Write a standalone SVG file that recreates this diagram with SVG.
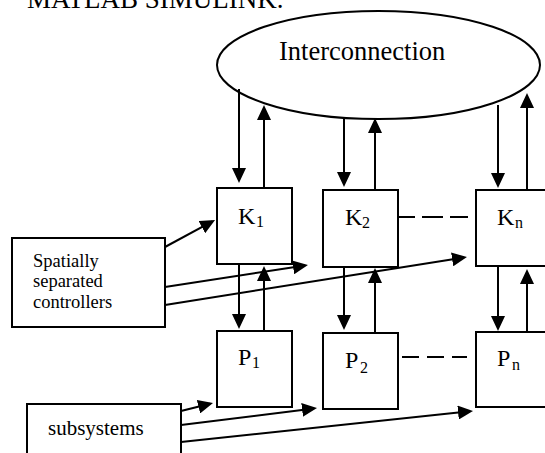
<svg xmlns="http://www.w3.org/2000/svg" width="545" height="453" viewBox="0 0 545 453">
  <style>
    .box { fill: #fff; stroke: #000; stroke-width: 2; }
    .wire { fill: none; stroke: #000; stroke-width: 2; marker-end: url(#head); }
    .dash { fill: none; stroke: #000; stroke-width: 2; }
    .serif { font-family: "Liberation Serif", "DejaVu Serif", "Noto Serif", Tinos, "Times New Roman", Times, serif; fill: #000; }
    .big { font-size: 24px; }
    .sub { font-size: 16px; }
  </style>
  <defs>
    <marker id="head" markerUnits="userSpaceOnUse" viewBox="0 0 15 14" refX="12" refY="7" markerWidth="15" markerHeight="14" orient="auto">
      <path d="M0,0 L15,7 L0,14 Z" fill="#000"/>
    </marker>
  </defs>
  <rect width="545" height="453" fill="#fff"/>

  <text class="serif" x="27" y="8" font-size="27">MATLAB SIMULINK.</text>

  <g id="interconnection">
    <ellipse cx="378.5" cy="65" rx="161.5" ry="54" class="box"/>
    <text class="serif" x="279" y="60" font-size="26.5">Interconnection</text>
  </g>

  <g id="connectors">
    <!-- interconnection <-> controllers -->
    <line class="wire" x1="239" y1="89" x2="239" y2="180"/>
    <line class="wire" x1="264" y1="188" x2="264" y2="108"/>
    <line class="wire" x1="344" y1="117" x2="344" y2="184"/>
    <line class="wire" x1="375" y1="190" x2="375" y2="121"/>
    <line class="wire" x1="498" y1="105" x2="498" y2="185"/>
    <line class="wire" x1="527" y1="190" x2="527" y2="96"/>
    <!-- controllers <-> subsystems -->
    <line class="wire" x1="239" y1="264" x2="239" y2="326"/>
    <line class="wire" x1="264" y1="331" x2="264" y2="269"/>
    <line class="wire" x1="344" y1="267" x2="344" y2="327"/>
    <line class="wire" x1="375" y1="333" x2="375" y2="271"/>
    <line class="wire" x1="498" y1="266" x2="498" y2="328"/>
    <line class="wire" x1="527" y1="332" x2="527" y2="272"/>
    <!-- spatially separated controllers -->
    <line class="wire" x1="165" y1="247" x2="212.4" y2="221.4"/>
    <line class="wire" x1="165" y1="287" x2="305" y2="265.5"/>
    <line class="wire" x1="165" y1="305" x2="464" y2="257.5"/>
    <!-- subsystems -->
    <line class="wire" x1="181" y1="411" x2="210.1" y2="403.7"/>
    <line class="wire" x1="181" y1="425" x2="314" y2="408.4"/>
    <line class="wire" x1="181" y1="442" x2="470" y2="411.3"/>
    <!-- ellipsis links -->
    <line class="dash" x1="398" y1="217" x2="468" y2="217" stroke-dasharray="17 7 21 7 18"/>
    <line class="dash" x1="402" y1="357" x2="467" y2="357" stroke-dasharray="17 8 17 8 17"/>
  </g>

  <g id="K1">
    <rect class="box" x="217" y="188" width="75" height="76"/>
    <text class="serif big" x="238" y="224">K</text><text class="serif sub" x="256" y="227">1</text>
  </g>
  <g id="K2">
    <rect class="box" x="323" y="190" width="75" height="77"/>
    <text class="serif big" x="345" y="225">K</text><text class="serif sub" x="362" y="228">2</text>
  </g>
  <g id="Kn">
    <rect class="box" x="476" y="190" width="80" height="76"/>
    <text class="serif big" x="497" y="225">K</text><text class="serif sub" x="515" y="228">n</text>
  </g>
  <g id="P1">
    <rect class="box" x="217" y="331" width="75" height="76"/>
    <text class="serif big" x="238" y="365">P</text><text class="serif sub" x="252" y="368">1</text>
  </g>
  <g id="P2">
    <rect class="box" x="323" y="333" width="75" height="76"/>
    <text class="serif big" x="345" y="368">P</text><text class="serif sub" x="360" y="373">2</text>
  </g>
  <g id="Pn">
    <rect class="box" x="476" y="332" width="80" height="75"/>
    <text class="serif big" x="497" y="366">P</text><text class="serif sub" x="512" y="370">n</text>
  </g>

  <g id="controllers">
    <rect class="box" x="12" y="238" width="153" height="89"/>
    <text class="serif" x="33" y="267" font-size="18.5">Spatially</text>
    <text class="serif" x="33" y="287" font-size="18.5">separated</text>
    <text class="serif" x="33" y="308" font-size="18.5">controllers</text>
  </g>

  <g id="subsystems">
    <rect class="box" x="27" y="404" width="154" height="60"/>
    <text class="serif" x="48" y="435" font-size="21">subsystems</text>
  </g>
</svg>
